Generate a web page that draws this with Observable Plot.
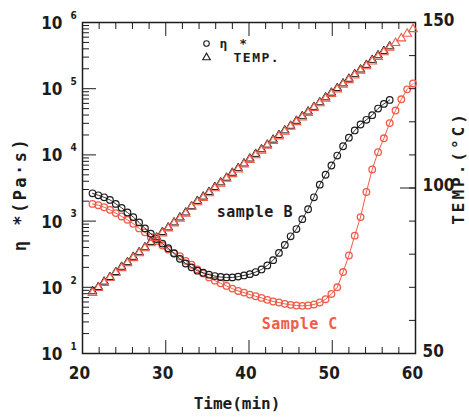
<!DOCTYPE html>
<html><head><meta charset="utf-8">
<script src="https://cdn.jsdelivr.net/npm/d3@7"></script>
<script src="https://cdn.jsdelivr.net/npm/@observablehq/plot@0.6"></script>
<style>
body{margin:0;background:#fff;}
#chart{position:relative;width:469px;height:417px;}
#chart svg{position:absolute;left:0;top:0;}
</style></head><body><div id="chart"></div>
<script>
// ---- data ----
const timeMin = [21.2,21.9,22.6,23.3,24.0,24.7,25.4,26.1,26.8,27.5,28.2,28.9,29.6,30.3,31.0,31.7,32.4,33.1,33.8,34.5,35.2,35.9,36.6,37.3,38.0,38.7,39.4,40.1,40.8,41.5,42.2,42.9,43.6,44.3,45.0,45.7,46.4,47.1,47.8,48.5,49.2,49.9,50.6,51.3,52.0,52.7,53.4,54.1,54.8,55.5,56.2,56.9,57.6,58.3,59.0,59.7];
// complex viscosity eta* (Pa·s)
const etaB = [2630,2455,2290,2090,1820,1585,1350,1150,955,776,646,537,457,389,324,269,229,200,178,166,155,148,143,141,141,145,151,158,170,186,214,257,331,437,589,759,1070,1510,2290,3550,5010,6920,9770,13500,18200,23400,28800,33900,39800,50100,58900,67600];
const etaC = [1820,1740,1620,1480,1320,1175,1047,912,776,676,575,501,427,372,331,295,251,219,186,162,141,126,115,105,95.5,88.1,83.2,77.6,73.3,69.2,64.6,61.0,58.9,56.2,54.3,53.1,52.5,53.1,55.0,58.9,66.1,79.4,100,170,302,603,1150,2750,6030,11000,17800,30200,46800,69200,97700,120000];
// temperature (°C)
const tempB = [68.8,70.1,71.7,73.1,74.6,76.2,77.6,79.2,80.6,82.1,83.7,85.1,86.7,88.1,89.6,91.1,92.6,94.5,96.1,97.4,98.8,100.3,101.7,103.1,104.6,106.0,107.4,108.9,110.3,111.7,113.1,114.6,116.0,117.4,118.8,120.3,121.7,123.1,124.5,125.9,127.4,128.8,130.2,131.6,133.0,134.4,135.8,137.2,138.7,140.1,141.4,142.8];
const tempC = [68.3,69.8,71.3,72.8,74.3,75.8,77.3,78.8,80.3,81.8,83.3,84.8,86.3,87.8,89.3,90.7,92.2,94.3,95.7,97.0,98.4,99.9,101.3,102.8,104.2,105.6,107.1,108.5,109.9,111.3,112.8,114.2,115.6,117.0,118.5,119.9,121.3,122.7,124.2,125.6,127.0,128.4,129.8,131.2,132.6,134.0,135.4,136.8,138.2,139.6,141.0,142.4,143.8,145.2,146.6,148.0];
// ticks
const xMajor = [20,30,40,50,60];
const xMinor = [22,24,26,28,32,34,36,38,42,44,46,48,52,54,56,58];
const yDecades = [1e1,1e2,1e3,1e4,1e5,1e6];
const tempTicks = [50,60,70,80,90,100,110,120,130,140,150];
const tempMajor = [100];
const tempLabels = [50,100,150];
// annotations
const notes = [
  {label:"sample B", t:40.7, eta:1350, series:"B"},
  {label:"Sample C", t:46.1, eta:28, series:"C"}
];

// ---- layout / style ----
const W = 469, H = 417;
const M = {marginTop:22, marginRight:54, marginBottom:64, marginLeft:82};
const RED = "#ef5c48", BLACK = "#1c1c1c";
const NUM = '"Liberation Sans Narrow","DejaVu Sans Condensed",sans-serif';
const MONO = '"DejaVu Sans Mono",monospace';

const rowsB = etaB.map((e,i)=>({t:timeMin[i], eta:e, temp:tempB[i]}));
const rowsC = etaC.map((e,i)=>({t:timeMin[i], eta:e, temp:tempC[i]}));
const yMinor = yDecades.slice(0,-1).flatMap(d=>[2,3,4,5,6,7,8,9].map(k=>k*d));
const blank = () => "";
const T = {fill:BLACK, fontWeight:"bold", lineAnchor:"middle"};

const p1 = Plot.plot({
  width:W, height:H, ...M,
  x:{type:"linear", domain:[20,60], axis:null},
  y:{type:"log", domain:[10,1e6], axis:null},
  style:{background:"transparent", fontFamily:NUM, overflow:"visible"},
  marks:[
    Plot.axisY(yMinor, {anchor:"left", tickSize:-7, tickFormat:blank, label:null, stroke:BLACK}),
    Plot.axisY(yDecades, {anchor:"left", tickSize:-14, tickFormat:blank, label:null, stroke:BLACK}),
    Plot.axisX(xMinor, {anchor:"bottom", tickSize:-6, tickFormat:blank, label:null, stroke:BLACK}),
    Plot.axisX(xMajor, {anchor:"bottom", tickSize:-13, tickFormat:blank, label:null, stroke:BLACK}),
    Plot.axisX(xMinor, {anchor:"top", tickSize:-6, tickFormat:blank, label:null, stroke:BLACK}),
    Plot.axisX(xMajor, {anchor:"top", tickSize:-13, tickFormat:blank, label:null, stroke:BLACK}),
    Plot.frame({stroke:BLACK, strokeWidth:1.5}),
    // left tick labels 10^n
    Plot.text(yDecades, {...T, y:d=>d, frameAnchor:"left", dx:-20, dy:1, text:()=>"10", textAnchor:"end", fontSize:17}),
    Plot.text(yDecades, {...T, y:d=>d, frameAnchor:"left", dx:-12, dy:-7, text:d=>String(Math.round(Math.log10(d))), textAnchor:"start", fontSize:10}),
    // bottom tick labels
    Plot.text(xMajor, {...T, x:d=>d, frameAnchor:"bottom", dy:20, dx:-3, text:d=>String(d), textAnchor:"middle", fontSize:17}),
    // axis titles
    Plot.text(["Time(min)"], {...T, frameAnchor:"bottom", dx:-12, dy:50, textAnchor:"middle", fontFamily:MONO, fontSize:16}),
    Plot.text(["η *(Pa·s)"], {...T, frameAnchor:"left", dx:-62, dy:6, rotate:-90, textAnchor:"middle", fontFamily:MONO, fontSize:17}),
    // viscosity series
    Plot.line(rowsC, {x:"t", y:"eta", stroke:RED, strokeWidth:1}),
    Plot.dot(rowsC, {x:"t", y:"eta", r:3.3, stroke:RED, strokeWidth:1.3, fill:"none"}),
    Plot.line(rowsB, {x:"t", y:"eta", stroke:BLACK, strokeWidth:0.9}),
    Plot.dot(rowsB, {x:"t", y:"eta", r:3.3, stroke:BLACK, strokeWidth:1.2, fill:"none"}),
    // annotations
    Plot.text(notes, {...T, x:"t", y:"eta", text:"label", textAnchor:"middle", fontFamily:MONO, fontSize:15, fill:d=>d.series==="C"?RED:BLACK}),
    // legend
    Plot.dot([0], {frameAnchor:"top-left", dx:124, dy:21, r:2.8, stroke:BLACK, strokeWidth:1.1, fill:"none"}),
    Plot.dot([0], {frameAnchor:"top-left", dx:124, dy:35, r:2.8, symbol:"triangle", stroke:BLACK, strokeWidth:1.1, fill:"none"}),
    Plot.text(["η *"], {...T, frameAnchor:"top-left", dx:137, dy:21, textAnchor:"start", fontFamily:MONO, fontSize:13}),
    Plot.text(["TEMP."], {...T, frameAnchor:"top-left", dx:151, dy:35, textAnchor:"start", fontFamily:MONO, fontSize:13})
  ]
});

const p2 = Plot.plot({
  width:W, height:H, ...M,
  x:{type:"linear", domain:[20,60], axis:null},
  y:{type:"linear", domain:[50,150], axis:null},
  style:{background:"transparent", fontFamily:NUM, overflow:"visible"},
  marks:[
    Plot.axisY(tempTicks, {anchor:"right", tickSize:-7, tickFormat:blank, label:null, stroke:BLACK}),
    Plot.axisY(tempMajor, {anchor:"right", tickSize:-16, tickFormat:blank, label:null, stroke:BLACK}),
    Plot.text(tempLabels, {...T, y:d=>d, frameAnchor:"right", dx:7, dy:-2, text:d=>String(d), textAnchor:"start", fontSize:17}),
    Plot.text(["TEMP.(°C)"], {...T, frameAnchor:"right", dx:43, dy:-20, rotate:-90, textAnchor:"middle", fontFamily:MONO, fontSize:16}),
    Plot.dot(rowsB, {x:"t", y:"temp", symbol:"triangle", r:3.2, stroke:BLACK, strokeWidth:1, fill:"none"}),
    Plot.dot(rowsC, {x:"t", y:"temp", symbol:"triangle", r:3.2, stroke:RED, strokeWidth:1.1, fill:"none"})
  ]
});

const host = document.getElementById("chart");
host.appendChild(p1);
host.appendChild(p2);
p2.style.pointerEvents = "none";

// letter spacing for the wide titles
const spacing = {"η *(Pa·s)":2.5, "TEMP.(°C)":3, "η *":2, "TEMP.":1.5, "sample B":0.5, "Sample C":0.5};
[p1,p2].forEach(svg => d3.select(svg).selectAll("text").each(function(){
  const s = spacing[this.textContent];
  if (s != null) this.setAttribute("letter-spacing", s);
}));
</script>
</body></html>
